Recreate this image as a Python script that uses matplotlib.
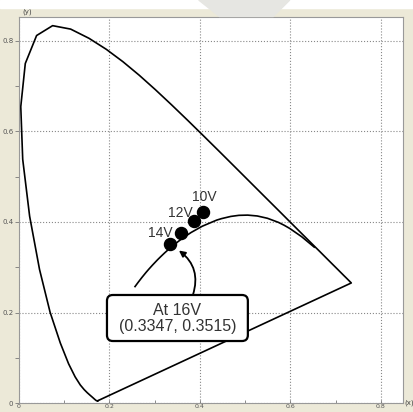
import numpy as np
import matplotlib.pyplot as plt
from matplotlib.patches import Rectangle, Polygon, FancyBboxPatch

# CIE 1931 spectral locus (380-700 nm)
locus_x = [0.1741, 0.1740, 0.1738, 0.1736, 0.1733, 0.1730, 0.1726, 0.1721, 0.1714, 0.1703,
           0.1689, 0.1669, 0.1644, 0.1611, 0.1566, 0.1510, 0.1440, 0.1355, 0.1241, 0.1096,
           0.0913, 0.0687, 0.0454, 0.0235, 0.0082, 0.0039, 0.0139, 0.0389, 0.0743, 0.1142,
           0.1547, 0.1929, 0.2296, 0.2658, 0.3016, 0.3373, 0.3731, 0.4087, 0.4441, 0.4788,
           0.5125, 0.5448, 0.5752, 0.6029, 0.6270, 0.6482, 0.6658, 0.6801, 0.6915, 0.7006,
           0.7079, 0.7140, 0.7190, 0.7230, 0.7260, 0.7300, 0.7320, 0.7334, 0.7347]
locus_y = [0.0050, 0.0050, 0.0049, 0.0049, 0.0048, 0.0048, 0.0048, 0.0048, 0.0051, 0.0058,
           0.0069, 0.0086, 0.0109, 0.0138, 0.0177, 0.0227, 0.0297, 0.0399, 0.0578, 0.0868,
           0.1327, 0.2007, 0.2950, 0.4127, 0.5384, 0.6548, 0.7502, 0.8120, 0.8338, 0.8262,
           0.8059, 0.7816, 0.7543, 0.7243, 0.6923, 0.6589, 0.6245, 0.5896, 0.5547, 0.5202,
           0.4866, 0.4544, 0.4242, 0.3965, 0.3725, 0.3514, 0.3340, 0.3197, 0.3083, 0.2993,
           0.2920, 0.2859, 0.2809, 0.2770, 0.2740, 0.2700, 0.2680, 0.2666, 0.2653]

# Planckian locus, 1000 K .. 20000 K
planck_x = [0.6528, 0.6251, 0.5985, 0.5857, 0.5732, 0.5493, 0.5267, 0.5056, 0.4862, 0.4683,
            0.4476, 0.4369, 0.4053, 0.3805, 0.3608, 0.3451, 0.3324, 0.3221, 0.3135, 0.3064,
            0.2952, 0.2869, 0.2807, 0.2719, 0.2637, 0.2565]
planck_y = [0.3444, 0.3674, 0.3858, 0.3931, 0.3993, 0.4082, 0.4133, 0.4152, 0.4147, 0.4123,
            0.4074, 0.4041, 0.3907, 0.3768, 0.3636, 0.3516, 0.3410, 0.3318, 0.3236, 0.3166,
            0.3048, 0.2956, 0.2884, 0.2776, 0.2670, 0.2573]

# measured points
volt_labels = ['10V', '12V', '14V', '16V']
pt_x = [0.407, 0.387, 0.358, 0.3347]
pt_y = [0.422, 0.402, 0.375, 0.3515]

ticks = [0, 0.2, 0.4, 0.6, 0.8]
tick_labels = ['0', '0.2', '0.4', '0.6', '0.8']
minor_ticks = [0.1, 0.3, 0.5, 0.7]

bg = '#ECE9D8'
fig = plt.figure(figsize=(4.14, 4.12), dpi=100, facecolor=bg)
fig.patches.append(Rectangle((0, 0.98), 1, 0.02, transform=fig.transFigure,
                             color='white', zorder=0))
fig.patches.append(Polygon([(0.48, 1.0), (0.70, 1.0), (0.66, 0.96), (0.53, 0.96)],
                           closed=True, transform=fig.transFigure,
                           color='#e6e6e2', zorder=0))

ax = fig.add_axes([0.0459, 0.0218, 0.9275, 0.937])
ax.set_facecolor('white')
ax.set_xlim(0, 0.849)
ax.set_ylim(0, 0.853)

ax.plot(locus_x + [locus_x[0]], locus_y + [locus_y[0]], color='black', lw=1.2,
        solid_joinstyle='round')
ax.plot(planck_x, planck_y, color='black', lw=1.2)
ax.scatter(pt_x, pt_y, s=75, color='black', zorder=5)

lab_off = [(0.002, 0.033), (-0.031, 0.018), (-0.046, 0.0)]
for i in range(3):
    ax.text(pt_x[i] + lab_off[i][0], pt_y[i] + lab_off[i][1], volt_labels[i],
            ha='center', va='center', fontsize=10, color='#333333',
            family='Liberation Sans')

# callout box for the 16V point
box = FancyBboxPatch((0.1945, 0.137), 0.3115, 0.1017,
                     boxstyle='round,pad=0,rounding_size=0.013',
                     fc='white', ec='black', lw=1.6, zorder=6)
ax.add_patch(box)
ax.text(0.3503, 0.2055, 'At ' + volt_labels[3], ha='center', va='center',
        fontsize=11.5, color='#333333', family='Liberation Sans', zorder=7)
ax.text(0.3503, 0.168, '({}, {})'.format(pt_x[3], pt_y[3]), ha='center', va='center',
        fontsize=11.5, color='#333333', family='Liberation Sans', zorder=7)
ax.annotate('', xy=(0.3536, 0.337), xytext=(0.3845, 0.2387),
            arrowprops=dict(arrowstyle='-|>', color='black', lw=1.3,
                            mutation_scale=9, shrinkA=0, shrinkB=0,
                            connectionstyle='arc3,rad=0.35'))

ax.set_xticks(ticks)
ax.set_yticks(ticks)
ax.set_xticks(minor_ticks, minor=True)
ax.set_yticks(minor_ticks, minor=True)
ax.set_xticklabels(tick_labels)
ax.set_yticklabels(tick_labels)
ax.tick_params(which='both', length=3, width=0.6, color='#777777',
               labelsize=5, labelcolor='#555555', pad=1)
ax.tick_params(axis='x', which='both', direction='in', length=2, labelsize=4.5, pad=0.5)
ax.grid(True, which='major', color='#888888', ls=':', lw=0.8)
for sp in ax.spines.values():
    sp.set_color('#999999')
    sp.set_linewidth(0.8)

fig.text(22 / 414, 1 - 12 / 412, '(y)', fontsize=5, color='#444444', va='center')
fig.text(404 / 414, 1 - 403 / 412, '(x)', fontsize=5, color='#444444', va='center')

fig.savefig('out.png', dpi=100, facecolor=bg)
